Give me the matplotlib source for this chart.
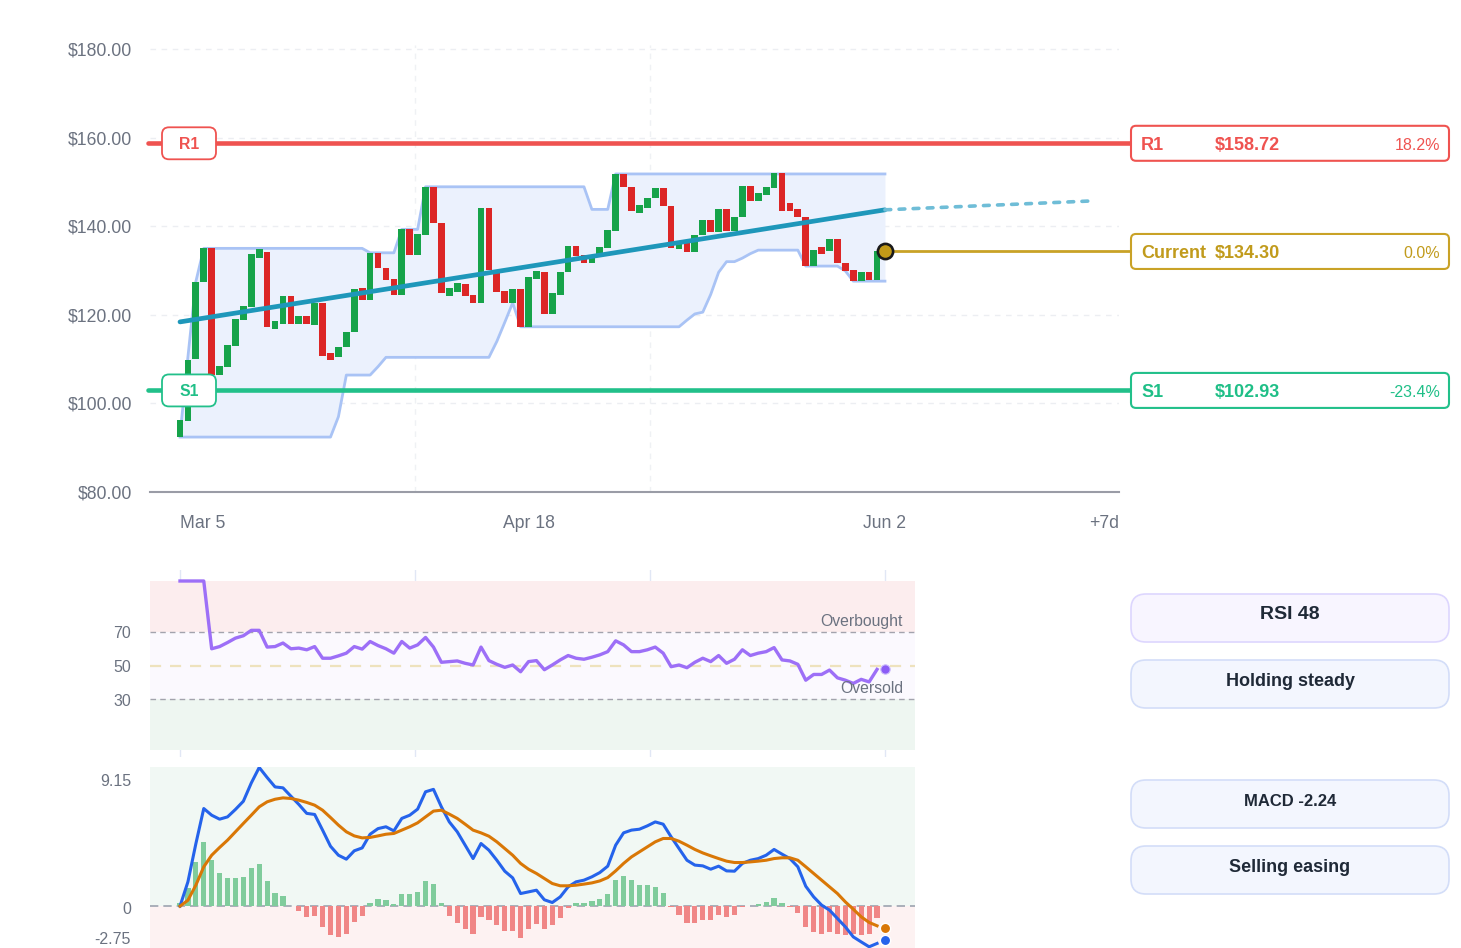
import matplotlib
matplotlib.use("Agg")
import matplotlib.pyplot as plt
import matplotlib.transforms as mtransforms
from matplotlib.patches import FancyBboxPatch
import numpy as np

plt.rcParams['font.family'] = ['Liberation Sans', 'DejaVu Sans']

# ---------------- data ----------------
opens = [92.4, 96.0, 110.0, 127.5, 135.0, 106.4, 108.3, 113.0, 118.8, 121.8,
         132.9, 134.1, 116.8, 117.9, 124.2, 117.9, 119.8, 117.8, 122.7, 111.4,
         110.4, 112.8, 116.2, 126.0, 123.3, 133.9, 130.5, 128.0, 124.5, 139.3,
         133.5, 138.0, 148.9, 140.8, 124.3, 125.2, 126.9, 124.5, 122.7, 144.0,
         129.4, 125.4, 122.7, 125.8, 117.3, 128.1, 129.6, 120.2, 124.5, 129.6,
         135.6, 133.5, 131.6, 133.3, 135.0, 139.0, 151.7, 148.8, 143.0, 144.2,
         146.3, 148.7, 144.6, 134.8, 136.1, 134.2, 138.0, 141.4, 138.8, 143.8,
         138.9, 142.0, 149.1, 145.7, 147.0, 148.6, 152.1, 145.2, 143.9, 142.1,
         131.0, 135.4, 134.4, 137.1, 131.6, 130.1, 127.6, 129.7, 127.9]
closes = [96.3, 109.8, 127.5, 135.0, 106.4, 108.4, 113.2, 119.0, 122.0, 133.7,
          134.8, 117.3, 118.6, 124.2, 117.9, 119.8, 117.9, 122.7, 110.7, 109.8,
          112.8, 116.2, 125.8, 123.3, 133.9, 130.5, 127.9, 124.5, 139.3, 133.5,
          138.2, 148.9, 140.7, 124.9, 126.1, 127.1, 124.3, 122.6, 144.0, 130.1,
          125.1, 122.7, 125.8, 117.3, 128.6, 130.0, 120.2, 124.9, 129.7, 135.6,
          133.3, 131.8, 133.5, 135.4, 139.1, 151.7, 148.8, 143.5, 144.9, 146.4,
          148.7, 144.6, 135.0, 136.5, 134.2, 138.0, 141.4, 138.8, 143.8, 138.9,
          142.0, 149.1, 145.7, 147.4, 148.8, 152.1, 143.5, 143.4, 142.1, 131.0,
          134.6, 133.7, 137.1, 131.6, 129.9, 127.6, 129.7, 127.9, 134.3]

band_upper = ([92.8, 110.5, 127.5] + [135.0] * 21 + [134.0] * 4 + [139.3] * 3 +
              [148.9] * 21 + [143.8] * 3 + [151.8] * 35)
band_lower = ([92.4] * 20 + [97.0] + [106.4] * 4 + [108.3] + [110.4] * 14 +
              [114.0, 118.3, 122.7] + [117.3] * 21 +
              [118.8, 120.2, 120.6, 124.6, 129.6, 132.0, 132.0, 132.8, 133.8] +
              [134.6] * 6 + [131.0] * 5 + [129.9] + [127.6] * 5)

trend_days = [0, 89]
trend_values = [118.4, 143.7]
forecast_days = [89, 115]
forecast_values = [143.7, 145.7]

price_ticks = [80, 100, 120, 140, 160, 180]
date_tick_days = [0, 44, 89]
date_tick_labels = ['Mar 5', 'Apr 18', 'Jun 2']
forecast_label = '+7d'
grid_days = [0, 29.67, 59.33, 89]

level_names = ['R1', 'Current', 'S1']
level_prices = [158.72, 134.30, 102.93]
level_pcts = ['18.2%', '0.0%', '-23.4%']
level_colors = ['#ef5350', '#c9a227', '#22c08a']
current_day = 89

rsi_values = [100, 100, 100, 100, 59.9, 61.2, 63.6, 66.2, 67.6, 70.8,
              70.8, 60.9, 61.2, 63.3, 59.9, 60.3, 59.3, 61.2, 54.3, 54.3,
              55.7, 57.3, 61.2, 59.7, 64.2, 61.8, 59.9, 57.3, 64.2, 60.3,
              62.2, 66.6, 60.9, 51.9, 52.3, 52.7, 51.3, 50.3, 60.9, 52.9,
              50.7, 48.9, 50.3, 46.3, 52.3, 52.9, 47.5, 50.3, 53.3, 55.9,
              54.3, 53.7, 54.9, 56.3, 58.2, 64.6, 62.2, 58.2, 58.2, 59.3,
              60.9, 57.3, 49.3, 50.3, 48.7, 51.9, 54.3, 52.3, 55.9, 51.3,
              53.7, 59.3, 55.9, 57.3, 58.2, 60.6, 53.3, 52.7, 50.7, 41.3,
              44.7, 44.7, 47.3, 42.7, 41.3, 39.4, 41.8, 40.3, 47.7]
rsi_now = 48
rsi_ticks = [30, 50, 70]

macd_values = [0.0, 1.6, 4.1, 6.42, 5.98, 5.72, 5.87, 6.36, 6.9, 8.1,
               9.12, 8.46, 7.84, 7.78, 7.23, 6.69, 6.1, 6.03, 5.0, 3.94,
               3.35, 3.09, 3.64, 3.83, 4.73, 5.1, 5.22, 4.95, 5.77, 5.98,
               6.38, 7.52, 7.68, 6.53, 5.54, 4.89, 4.01, 3.13, 4.12, 3.68,
               3.02, 2.3, 1.86, 0.83, 0.94, 1.05, 0.42, 0.24, 0.61, 1.27,
               1.6, 1.71, 1.93, 2.21, 2.63, 4.01, 4.82, 5.0, 5.06, 5.28,
               5.54, 5.39, 4.56, 3.79, 3.02, 2.7, 2.65, 2.43, 2.63, 2.32,
               2.3, 2.81, 3.02, 3.13, 3.35, 3.73, 3.42, 3.13, 2.59, 1.31,
               0.61, 0.07, -0.26, -0.81, -1.36, -2.02, -2.35, -2.67, -2.45]
signal_values = [0.0, 0.39, 1.38, 2.59, 3.35, 3.86, 4.34, 4.89, 5.44, 5.98,
                 6.53, 6.86, 7.03, 7.12, 7.08, 6.97, 6.82, 6.64, 6.31, 5.83,
                 5.33, 4.89, 4.62, 4.49, 4.52, 4.62, 4.73, 4.78, 5.0, 5.22,
                 5.48, 5.87, 6.25, 6.31, 6.05, 5.77, 5.39, 5.0, 4.82, 4.6,
                 4.23, 3.79, 3.35, 2.81, 2.43, 2.15, 1.82, 1.49, 1.34, 1.34,
                 1.38, 1.45, 1.53, 1.66, 1.88, 2.32, 2.81, 3.24, 3.57, 3.9,
                 4.23, 4.45, 4.45, 4.27, 4.01, 3.73, 3.5, 3.31, 3.13, 2.96,
                 2.87, 2.87, 2.91, 2.96, 3.02, 3.13, 3.18, 3.18, 3.02, 2.59,
                 2.15, 1.71, 1.27, 0.83, 0.28, -0.2, -0.7, -1.07, -1.29]
hist_values = [0.18, 1.2, 2.91, 4.23, 3.02, 2.21, 1.86, 1.88, 1.93, 2.54,
               2.76, 1.66, 0.88, 0.66, 0.04, -0.31, -0.7, -0.66, -1.4, -1.91,
               -2.02, -1.8, -1.03, -0.66, 0.18, 0.46, 0.39, 0.11, 0.79, 0.79,
               0.94, 1.64, 1.45, 0.18, -0.64, -1.1, -1.53, -1.86, -0.7, -0.88,
               -1.25, -1.62, -1.62, -2.06, -1.53, -1.14, -1.47, -1.25, -0.77, -0.09,
               0.18, 0.22, 0.33, 0.5, 0.79, 1.71, 2.0, 1.71, 1.42, 1.38,
               1.27, 0.88, -0.04, -0.59, -1.1, -1.08, -0.92, -0.92, -0.59, -0.7,
               -0.59, -0.04, 0.02, 0.13, 0.28, 0.57, 0.18, -0.07, -0.44, -1.36,
               -1.69, -1.8, -1.69, -1.82, -1.91, -1.8, -1.91, -1.8, -0.81]
macd_now = -2.24
signal_now = -1.43
macd_range = [-2.75, 9.15]

info_texts = ['RSI 48', 'Holding steady', 'MACD -2.24', 'Selling easing']

# ---------------- layout ----------------
W, H = 1461, 948
fig = plt.figure(figsize=(W / 100, H / 100), dpi=100)
PX = 7.921  # pixels per day
GRAY = '#6b7280'


def axes_px(l, t, r, b, **kw):
    return fig.add_axes([l / W, 1 - b / H, (r - l) / W, (b - t) / H], **kw)


x_left = -30 / PX

# ---------------- main price chart ----------------
ax = axes_px(150, 44.6, 1119, 492)
ax.set_xlim(x_left, 939 / PX)
ax.set_ylim(80, 181)
ax.set_axisbelow(True)
for s in ['top', 'left', 'right']:
    ax.spines[s].set_visible(False)
ax.spines['bottom'].set_color('#9a9ca6')
ax.spines['bottom'].set_linewidth(1.5)

ax.set_yticks(price_ticks)
ax.set_yticklabels([f'${v:.2f}' for v in price_ticks])
ax.set_xticks(date_tick_days + [939 / PX])
ax.set_xticklabels(date_tick_labels + [forecast_label])
xl = ax.get_xticklabels()
xl[0].set_ha('left')
xl[-1].set_ha('right')
ax.tick_params(axis='both', length=0, labelsize=12.7, labelcolor=GRAY)
ax.tick_params(axis='y', pad=13)
ax.tick_params(axis='x', pad=16.5)
ax.set_xticks(grid_days, minor=True)
ax.tick_params(which='minor', length=0)
ax.grid(True, which='minor', axis='x', color='#eff1f4', lw=1, ls=(0, (4, 4)))
ax.yaxis.grid(True, which='major', color='#eceef2', lw=1, ls=(0, (4, 4)))

bd = np.arange(len(band_upper))
ax.fill_between(bd, band_lower, band_upper, color='#ebf1fd', lw=0, zorder=2)
ax.plot(bd, band_upper, color='#a9c3f5', lw=2.0, zorder=3, solid_joinstyle='round')
ax.plot(bd, band_lower, color='#a9c3f5', lw=2.0, zorder=3, solid_joinstyle='round')

o = np.array(opens)
c = np.array(closes)
days = np.arange(len(o))
cols = np.where(c >= o, '#16a34a', '#dc2626')
ax.bar(days, np.abs(c - o), bottom=np.minimum(o, c), width=0.85, color=cols,
       lw=0, zorder=4)

ax.plot(trend_days, trend_values, color='#1e97ba', lw=3.4, zorder=6,
        solid_capstyle='round')
ax.plot(forecast_days, forecast_values, color='#6fbdd7', lw=2.6, zorder=6,
        dashes=(1.6, 2.3), dash_capstyle='round', clip_on=False)

inv = ax.transData.inverted()


def px_to_day(px):
    return inv.transform((px, 0))[0]


for name, price, col in zip(level_names, level_prices, level_colors):
    if name == 'Current':
        ax.plot([current_day, px_to_day(1131)], [price, price], color=col,
                lw=2.0, zorder=7, clip_on=False)
    else:
        ax.plot([px_to_day(148), px_to_day(1131)], [price, price], color=col,
                lw=3.3, zorder=7, clip_on=False, solid_capstyle='round')

ax.scatter([current_day], [level_prices[1]], s=120, color='#c29a18',
           edgecolor='#1a1a1a', linewidth=1.9, zorder=9, clip_on=False)

# ---------------- RSI panel ----------------
ar = axes_px(150, 570, 915, 757)
ar.set_xlim(x_left, 735 / PX)
ar.set_ylim(-7 / 1.69, 100 + 11 / 1.69)
ar.set_axisbelow(True)
for s in ar.spines.values():
    s.set_visible(False)
ar.set_xticks(grid_days)
ar.set_xticklabels([])
ar.xaxis.grid(True, color='#e1e7f5', lw=1)
ar.set_yticks([])
ar.tick_params(axis='both', length=0)
rtr = mtransforms.offset_copy(ar.get_yaxis_transform(), fig=fig, x=-19, y=-2,
                              units='dots')
for t in rsi_ticks:
    ar.text(0, t, str(t), transform=rtr, ha='right', va='center', fontsize=11.5,
            color=GRAY)
ar.axhspan(70, 100, color='#fcedee', lw=0, zorder=1)
ar.axhspan(30, 70, color='#fbf9fe', lw=0, zorder=1)
ar.axhspan(0, 30, color='#eef6f1', lw=0, zorder=1)
ar.axhline(70, color='#a3a3ad', lw=1, ls=(0, (4, 3)), zorder=2)
ar.axhline(30, color='#a3a3ad', lw=1, ls=(0, (4, 3)), zorder=2)
ar.axhline(50, color='#eee2bd', lw=1.6, ls=(0, (5, 4)), zorder=2)
ar.plot(np.arange(len(rsi_values)), rsi_values, color='#9d6ff7', lw=2.4,
        zorder=4, solid_joinstyle='round')
ar.scatter([current_day], [rsi_now], s=45, color='#8b5cf6', edgecolor='#c9b8fb',
           linewidth=0.8, zorder=5)
tr_up = mtransforms.offset_copy(ar.get_yaxis_transform(), fig=fig, y=3, units='dots')
ar.text((903 - 150) / 765, 70, 'Overbought', transform=tr_up, ha='right',
        va='bottom', fontsize=11.3, color=GRAY, zorder=6)
ar.text((903 - 150) / 765, 30, 'Oversold', transform=tr_up, ha='right',
        va='bottom', fontsize=11.3, color=GRAY, zorder=6)

# ---------------- MACD panel ----------------
am = axes_px(150, 767, 915, 948)
am.set_xlim(x_left, 735 / PX)
am.set_ylim(macd_range[0], macd_range[1])
for s in am.spines.values():
    s.set_visible(False)
am.set_xticks([])
am.set_yticks([])
am.axhspan(0, macd_range[1], color='#f1f8f4', lw=0, zorder=0)
am.axhspan(macd_range[0], 0, color='#fdf2f2', lw=0, zorder=0)
am.axhline(0, color='#9ca3af', lw=1.2, ls=(0, (5, 3)), zorder=1)
hv = np.array(hist_values)
am.bar(np.arange(len(hv)), hv, width=0.66,
       color=np.where(hv >= 0, '#80cc9c', '#f08686'), lw=0, zorder=2)
md = np.arange(len(macd_values))
am.plot(md, macd_values, color='#2563eb', lw=2.2, zorder=4, solid_joinstyle='round')
am.plot(md, signal_values, color='#d97706', lw=2.2, zorder=4, solid_joinstyle='round')
am.scatter([current_day], [macd_now], s=55, color='#2563eb', edgecolor='white',
           linewidth=1, zorder=5, clip_on=False)
am.scatter([current_day], [signal_now], s=55, color='#d97706', edgecolor='white',
           linewidth=1, zorder=5, clip_on=False)
ytr = am.get_yaxis_transform()
for val, dy in [(macd_range[1], -15), (0, -3), (macd_range[0], 8)]:
    t = mtransforms.offset_copy(ytr, fig=fig, x=-19, y=dy, units='dots')
    lab = '0' if val == 0 else f'{val:.2f}'
    am.text(0, val, lab, transform=t, ha='right', va='center', fontsize=11.5,
            color=GRAY)

# ---------------- overlay: badges and side panels ----------------
ov = fig.add_axes([0, 0, 1, 1], zorder=20)
ov.set_xlim(0, W)
ov.set_ylim(H, 0)
ov.axis('off')


def level_py(price):
    return H - ax.transData.transform((0, price))[1]


for name, price, pct, col in zip(level_names, level_prices, level_pcts, level_colors):
    py = level_py(price)
    tcol = {'R1': '#ef5350', 'Current': '#c19b1c', 'S1': '#1fbf87'}[name]
    if name != 'Current':
        ov.add_patch(FancyBboxPatch((162, py - 16), 54, 32,
                                    boxstyle='round,pad=0,rounding_size=7',
                                    fc='white', ec=col, lw=1.3))
        ov.text(189, py + 1.5, name, ha='center', va='center', fontsize=11.3,
                fontweight='bold', color=tcol)
    ov.add_patch(FancyBboxPatch((1131, py - 17.5), 318, 35,
                                boxstyle='round,pad=0,rounding_size=5',
                                fc='white', ec=col, lw=1.5))
    ov.text(1141, py + 2, name, ha='left', va='center', fontsize=13,
            fontweight='bold', color=tcol)
    ov.text(1215, py + 2, f'${price:.2f}', ha='left', va='center', fontsize=13,
            fontweight='bold', color=tcol)
    ov.text(1440, py + 2, pct, ha='right', va='center', fontsize=11.5,
            color=tcol)

info_boxes = [(594, '#f8f5ff', '#ddd6fe', 614.5, 14),
              (660, '#f3f6fe', '#d3ddf8', 681, 13),
              (780, '#f3f6fe', '#d3ddf8', 801, 12),
              (846, '#f3f6fe', '#d3ddf8', 867, 13)]
for txt, (top, fc, ec, ty, fs) in zip(info_texts, info_boxes):
    ov.add_patch(FancyBboxPatch((1131, top), 318, 48,
                                boxstyle='round,pad=0,rounding_size=15',
                                fc=fc, ec=ec, lw=1.2))
    ov.text(1290, ty, txt, ha='center', va='center', fontsize=fs,
            fontweight='bold', color='#1f2937')

fig.savefig('out.png', dpi=100)
